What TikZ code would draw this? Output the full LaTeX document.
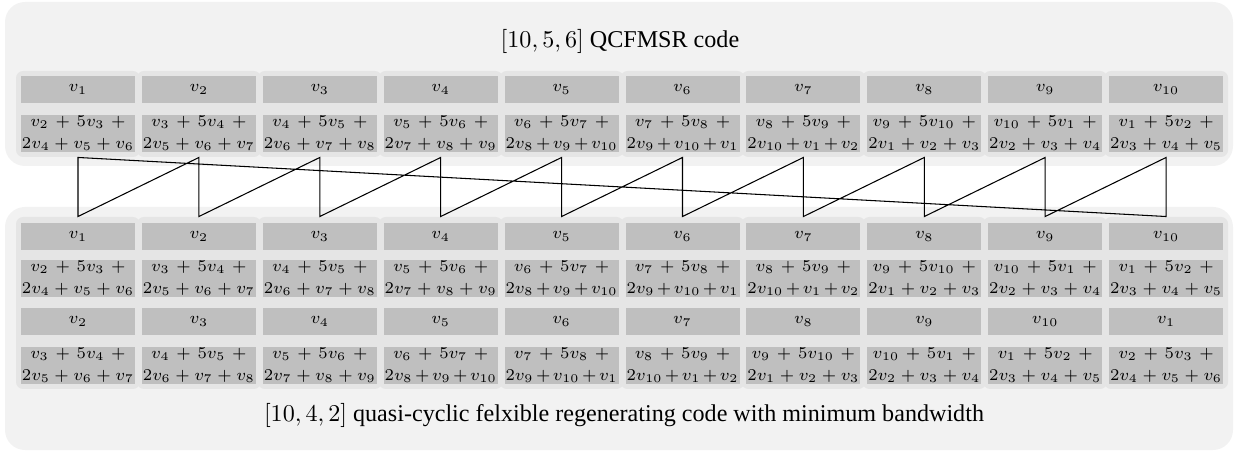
\documentclass[tikz,border=0pt]{standalone}
\usepackage{fix-cm}
\usepackage[no-math]{fontspec}
\setmainfont{Liberation Serif}
\newcommand\cellfont{\fontsize{7}{9.35}\selectfont\binoppenalty=10000\relax}
\newcommand\cellmath[1]{$\medmuskip=6.2mu minus 6.2mu #1$}
\begin{document}
\begin{tikzpicture}[x=0.425pt,y=-0.425pt,
  outerbox/.style={fill=gray!10, rounded corners=8.5pt, inner sep=0pt, minimum width=521.9pt},
  colbox/.style={fill=gray!20, rounded corners=3pt, inner sep=0pt, minimum width=52.7pt},
  hcell/.style={fill=gray!50, inner sep=0pt, minimum width=48.45pt, minimum height=11.475pt, font=\cellfont},
  dcell/.style={fill=gray!50, inner sep=0pt, minimum width=48.45pt, minimum height=15.725pt,
                text width=47.6pt, align=center, font=\cellfont},
  titletext/.style={font=\fontsize{10.25}{12}\selectfont, inner sep=0pt},
  link/.style={draw=black, line width=0.45pt}]
\useasboundingbox (0,0) rectangle (1235,452);
% outer containers
\node (topbox) [outerbox, minimum height=69.7pt] at (619,84) {};
\node (botbox) [outerbox, minimum height=103.3pt] at (619,328.5) {};
% titles
\node (ttitle) [titletext] at (620,41) {$[10,5,6]$ QCFMSR code};
\node (btitle) [titletext] at (624,415) {$[10,4,2]$ quasi-cyclic felxible regenerating code with minimum bandwidth};
% columns
\foreach \i in {1,...,10}{
  \pgfmathsetmacro\cx{78+120.9*(\i-1)}
  \pgfmathtruncatemacro\a{mod(\i,10)+1}
  \pgfmathtruncatemacro\b{mod(\i+1,10)+1}
  \pgfmathtruncatemacro\c{mod(\i+2,10)+1}
  \pgfmathtruncatemacro\d{mod(\i+3,10)+1}
  \pgfmathtruncatemacro\e{mod(\i+4,10)+1}
  \pgfmathtruncatemacro\f{mod(\i+5,10)+1}
  \node (tcol\i) [colbox, minimum height=36.55pt] at (\cx,114) {};
  \node (bcol\i) [colbox, minimum height=73.1pt] at (\cx,303) {};
  % top block
  \node (th\i) [hcell] at (\cx,89.5) {$v_{\i}$};
  \node (td\i) [dcell] at (\cx,133.5) {\cellmath{v_{\a}+5v_{\b}\mskip\medmuskip+}\\\cellmath{2v_{\c}+v_{\d}+v_{\e}}};
  % bottom block, first pair
  \node (bh\i) [hcell] at (\cx,236.5) {$v_{\i}$};
  \node (bd\i) [dcell] at (\cx,278.5) {\cellmath{v_{\a}+5v_{\b}\mskip\medmuskip+}\\\cellmath{2v_{\c}+v_{\d}+v_{\e}}};
  % bottom block, second pair
  \node (bh2\i) [hcell] at (\cx,321.5) {$v_{\a}$};
  \node (bd2\i) [dcell] at (\cx,365.5) {\cellmath{v_{\b}+5v_{\c}\mskip\medmuskip+}\\\cellmath{2v_{\d}+v_{\e}+v_{\f}}};
}
% connectors
\draw[link] (tcol1.south) -- (bcol1.north)
  -- (tcol2.south) -- (bcol2.north)
  -- (tcol3.south) -- (bcol3.north)
  -- (tcol4.south) -- (bcol4.north)
  -- (tcol5.south) -- (bcol5.north)
  -- (tcol6.south) -- (bcol6.north)
  -- (tcol7.south) -- (bcol7.north)
  -- (tcol8.south) -- (bcol8.north)
  -- (tcol9.south) -- (bcol9.north)
  -- (tcol10.south) -- (bcol10.north) -- cycle;
\end{tikzpicture}
\end{document}
